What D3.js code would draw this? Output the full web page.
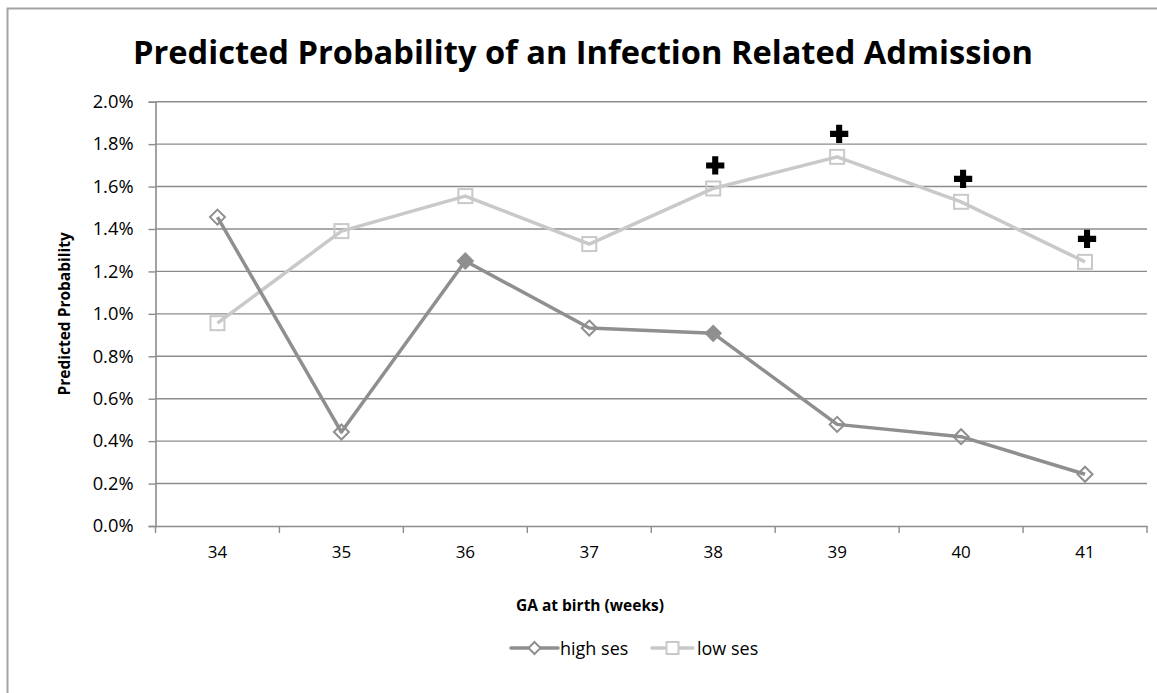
<!DOCTYPE html>
<html>
<head>
<meta charset="utf-8">
<script src="https://cdn.jsdelivr.net/npm/d3@7"></script>
<style>
  html, body { margin: 0; padding: 0; background: #fff; }
  svg { display: block; font-family: "Open Sans", "Lato", sans-serif; }
</style>
</head>
<body>
<svg id="chart" width="1157" height="693"></svg>
<script>
// Gestational age categories (weeks)
const weeks = ["34", "35", "36", "37", "38", "39", "40", "41"];
// Predicted probability (%) by socioeconomic status
const highSes = [1.456, 0.443, 1.249, 0.933, 0.908, 0.479, 0.421, 0.244];
const lowSes  = [0.956, 1.390, 1.555, 1.329, 1.591, 1.740, 1.528, 1.245];
// Weeks where the high-ses marker is drawn solid
const highSesSolid = ["36", "38"];
// Weeks flagged with a cross above the low-ses point
const flaggedWeeks = ["38", "39", "40", "41"];
// Y axis ticks (%)
const yTicks = [0, 0.2, 0.4, 0.6, 0.8, 1.0, 1.2, 1.4, 1.6, 1.8, 2.0];
const yTickLabels = ["0.0%", "0.2%", "0.4%", "0.6%", "0.8%", "1.0%", "1.2%", "1.4%", "1.6%", "1.8%", "2.0%"];

const titleText = "Predicted Probability of an Infection Related Admission";
const xTitle = "GA at birth (weeks)";
const yTitle = "Predicted Probability";
const seriesNames = ["high ses", "low ses"];

const svg = d3.select("#chart");
const gridColor = "#8c8c8c";
const highColor = "#8f8f8f";
const lowColor = "#c9c9c9";

const plot = { left: 155.5, right: 1147, top: 101.7, bottom: 526 };

const x = d3.scaleBand().domain(weeks).range([plot.left, plot.right]);
const y = d3.scaleLinear().domain([0, 2]).range([plot.bottom, plot.top]);
const cx = w => x(w) + x.bandwidth() / 2;

// outer frame (left and top edges)
svg.append("path")
  .attr("d", "M7.5,693 L7.5,8.5 L1157,8.5")
  .attr("fill", "none").attr("stroke", "#a3a3a3").attr("stroke-width", 2);

// title, fitted to its width
const title = svg.append("text")
  .attr("x", 583).attr("y", 64)
  .attr("text-anchor", "middle")
  .attr("font-weight", "bold").attr("font-size", 32)
  .attr("fill", "#000")
  .text(titleText);
const tw = title.node().getComputedTextLength();
title.attr("font-size", 32 * 900 / tw);

// horizontal gridlines
svg.append("g").selectAll("line").data(yTicks.slice(1)).join("line")
  .attr("x1", plot.left).attr("x2", plot.right)
  .attr("y1", d => y(d)).attr("y2", d => y(d))
  .attr("stroke", gridColor).attr("stroke-width", 1.4);

// y axis
const yAxis = d3.axisLeft(y).tickValues(yTicks)
  .tickFormat((d, i) => yTickLabels[i]).tickSize(7).tickPadding(15);
const gy = svg.append("g").attr("transform", `translate(${plot.left},0)`).call(yAxis);
gy.select(".domain").attr("stroke", gridColor).attr("stroke-width", 1.6);
gy.selectAll(".tick line").attr("stroke", gridColor).attr("stroke-width", 1.4);
gy.selectAll(".tick text").attr("font-size", 18.3).attr("fill", "#000")
  .attr("font-family", "'Open Sans', sans-serif");

// x axis
const xAxis = d3.axisBottom(x).tickSize(0).tickPadding(20);
const gx = svg.append("g").attr("transform", `translate(0,${plot.bottom})`).call(xAxis);
gx.select(".domain").attr("stroke", gridColor).attr("stroke-width", 1.6);
gx.selectAll(".tick text").attr("font-size", 17).attr("fill", "#000")
  .attr("font-family", "'Open Sans', sans-serif");
// tick marks at category boundaries
const bounds = weeks.map(w => x(w)).concat([plot.right]);
gx.append("g").selectAll("line").data(bounds).join("line")
  .attr("x1", d => d).attr("x2", d => d).attr("y1", 0).attr("y2", 7)
  .attr("stroke", gridColor).attr("stroke-width", 1.4);

// axis titles
svg.append("text").attr("x", 590).attr("y", 611)
  .attr("text-anchor", "middle").attr("font-weight", "bold").attr("font-size", 15.5)
  .text(xTitle);
svg.append("text")
  .attr("transform", `translate(70,${(plot.top + plot.bottom) / 2}) rotate(-90)`)
  .attr("text-anchor", "middle").attr("font-weight", "bold").attr("font-size", 15.5)
  .text(yTitle);

const line = d3.line().x((d, i) => cx(weeks[i])).y(d => y(d));

// low ses series
svg.append("path").datum(lowSes).attr("d", line)
  .attr("fill", "none").attr("stroke", lowColor).attr("stroke-width", 3.5)
  .attr("stroke-linejoin", "round");
svg.append("g").selectAll("rect").data(lowSes).join("rect")
  .attr("x", (d, i) => cx(weeks[i]) - 7).attr("y", d => y(d) - 7)
  .attr("width", 14).attr("height", 14)
  .attr("fill", "none").attr("stroke", lowColor).attr("stroke-width", 2);

// high ses series
svg.append("path").datum(highSes).attr("d", line)
  .attr("fill", "none").attr("stroke", highColor).attr("stroke-width", 3.5)
  .attr("stroke-linejoin", "round");
const diamond = "M0,-7.5 L7.5,0 L0,7.5 L-7.5,0 Z";
svg.append("g").selectAll("path").data(highSes).join("path")
  .attr("transform", (d, i) => `translate(${cx(weeks[i])},${y(d)})`)
  .attr("d", diamond)
  .attr("fill", (d, i) => highSesSolid.includes(weeks[i]) ? highColor : "none")
  .attr("stroke", highColor).attr("stroke-width", 2);

// crosses above flagged low ses points
const cross = d3.symbol().type(d3.symbolCross).size(185);
svg.append("g").selectAll("path").data(flaggedWeeks).join("path")
  .attr("transform", w => `translate(${cx(w) + 2},${y(lowSes[weeks.indexOf(w)]) - 23})`)
  .attr("d", cross).attr("fill", "#000");

// legend
const legend = svg.append("g").attr("transform", "translate(0,648)");
const leg = [
  { name: seriesNames[0], x0: 511, x1: 558, color: highColor, shape: "diamond", tx: 560 },
  { name: seriesNames[1], x0: 652, x1: 693, color: lowColor, shape: "square", tx: 697 }
];
leg.forEach(l => {
  legend.append("line").attr("x1", l.x0).attr("x2", l.x1).attr("y1", 0).attr("y2", 0)
    .attr("stroke", l.color).attr("stroke-width", 3.5).attr("stroke-linecap", "round");
  const mx = (l.x0 + l.x1) / 2;
  if (l.shape === "diamond") {
    legend.append("path").attr("transform", `translate(${mx},0)`).attr("d", "M0,-6 L6,0 L0,6 L-6,0 Z")
      .attr("fill", "#fff").attr("stroke", l.color).attr("stroke-width", 2);
  } else {
    legend.append("rect").attr("x", mx - 6).attr("y", -6).attr("width", 12).attr("height", 12)
      .attr("fill", "#fff").attr("stroke", l.color).attr("stroke-width", 2);
  }
  legend.append("text").attr("x", l.tx).attr("y", 6.5).attr("font-size", 18)
    .attr("fill", "#000").text(l.name);
});
</script>
</body>
</html>
